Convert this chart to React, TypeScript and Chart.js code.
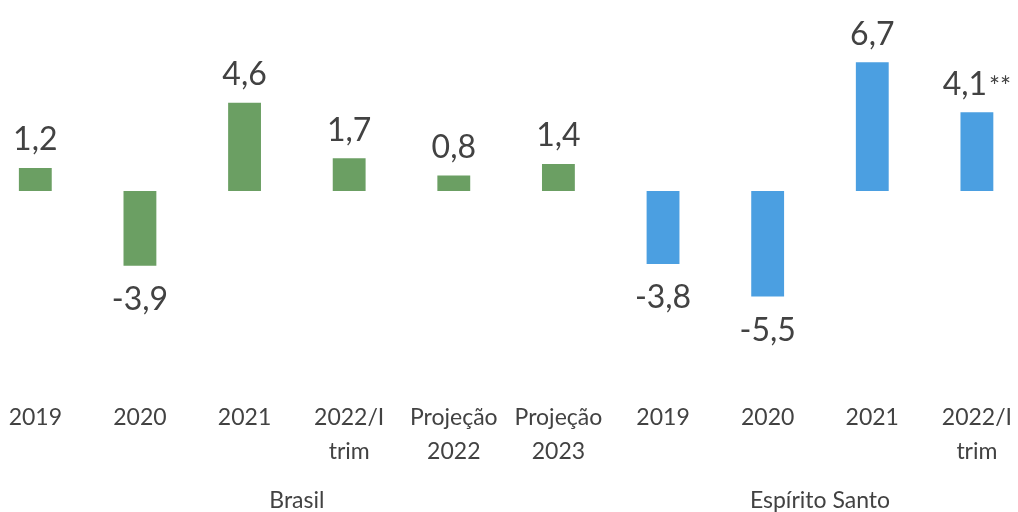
import React, { useEffect, useRef } from "react";
import { Chart, registerables } from "chart.js";

Chart.register(...registerables);

const categories: string[][] = [
  ["2019"], ["2020"], ["2021"], ["2022/I", "trim"], ["Projeção", "2022"], ["Projeção", "2023"],
  ["2019"], ["2020"], ["2021"], ["2022/I", "trim"],
];
const values: number[] = [1.2, -3.9, 4.6, 1.7, 0.8, 1.4, -3.8, -5.5, 6.7, 4.1];
const valueLabels: string[] = ["1,2", "-3,9", "4,6", "1,7", "0,8", "1,4", "-3,8", "-5,5", "6,7", "4,1"];
const valueSuffix: string[] = ["", "", "", "", "", "", "", "", "", "**"];
const groups: string[] = ["Brasil", "Espírito Santo"];
const groupRanges: number[][] = [[0, 5], [6, 9]];
const barColors: string[] = [
  "#6b9f63", "#6b9f63", "#6b9f63", "#6b9f63", "#6b9f63", "#6b9f63",
  "#4b9fe1", "#4b9fe1", "#4b9fe1", "#4b9fe1",
];

const FONT = "Lato";
const TEXT = "#424242";

const labelPlugin = {
  id: "labels",
  afterDatasetsDraw(chart: any) {
    const ctx = chart.ctx;
    const meta = chart.getDatasetMeta(0);
    ctx.save();
    ctx.fillStyle = TEXT;
    ctx.textBaseline = "middle";
    meta.data.forEach((bar: any, i: number) => {
      const v = values[i];
      const y = v >= 0 ? bar.y - 28 : bar.y + 34;
      ctx.font = `32px ${FONT}`;
      const main = valueLabels[i];
      const w1 = ctx.measureText(main).width;
      let w2 = 0;
      if (valueSuffix[i]) {
        ctx.font = `26px ${FONT}`;
        w2 = ctx.measureText(valueSuffix[i]).width + 2;
      }
      const start = bar.x - (w1 + w2) / 2;
      ctx.textAlign = "left";
      ctx.font = `32px ${FONT}`;
      ctx.fillText(main, start, y);
      if (valueSuffix[i]) {
        ctx.font = `26px ${FONT}`;
        ctx.fillText(valueSuffix[i], start + w1 + 2, y + 3);
      }
    });
    const xs = chart.scales.x;
    ctx.font = `23px ${FONT}`;
    ctx.textAlign = "center";
    groups.forEach((g, gi) => {
      const [a, b] = groupRanges[gi];
      const x = (xs.getPixelForValue(a) + xs.getPixelForValue(b)) / 2;
      ctx.fillText(g, x, 501);
    });
    ctx.restore();
  },
};

export default function App() {
  const ref = useRef<HTMLCanvasElement>(null);
  useEffect(() => {
    document.body.style.overflow = "hidden";
    const chart = new Chart(ref.current!, {
      type: "bar",
      data: {
        labels: categories,
        datasets: [
          {
            data: values,
            backgroundColor: barColors,
            borderWidth: 0,
            categoryPercentage: 1,
            barPercentage: 0.314,
          },
        ],
      },
      options: {
        animation: false,
        responsive: true,
        maintainAspectRatio: false,
        layout: { padding: 0 },
        plugins: { legend: { display: false }, tooltip: { enabled: false } },
        scales: {
          y: { display: false, min: -9.85, max: 9.95 },
          x: {
            grid: { display: false, drawTicks: false },
            border: { display: false },
            ticks: {
              color: TEXT,
              font: { family: FONT, size: 23, lineHeight: 1.48 },
              padding: 21,
              maxRotation: 0,
              autoSkip: false,
            },
            afterFit: (s: any) => {
              s.height = 132;
            },
          },
        },
      },
      plugins: [labelPlugin],
    });
    return () => chart.destroy();
  }, []);
  return (
    <div style={{ position: "fixed", left: -17, top: 0, width: 1050, height: 512, background: "#fff" }}>
      <canvas ref={ref} />
    </div>
  );
}
